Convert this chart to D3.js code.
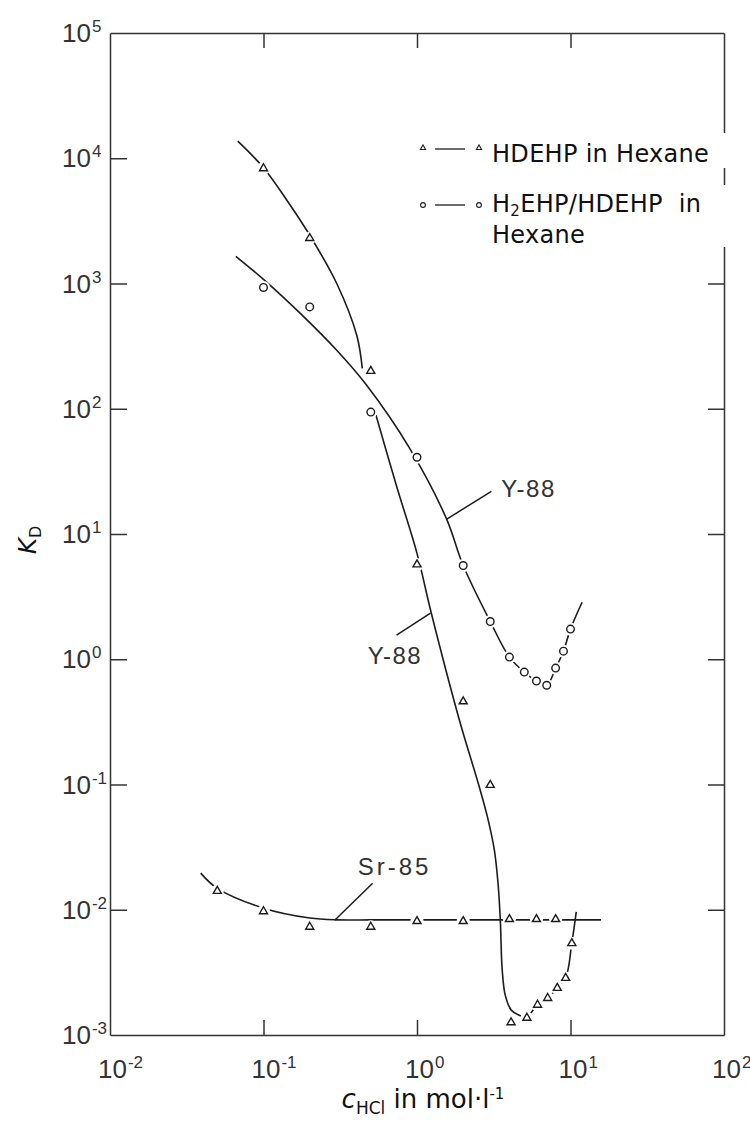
<!DOCTYPE html>
<html>
<head>
<meta charset="utf-8">
<script src="https://cdn.jsdelivr.net/npm/d3@7"></script>
<style>
body { margin: 0; background: #fff; }
</style>
</head>
<body>
<script>
// tick exponents
var xExp = [-2, -1, 0, 1, 2];
var yExp = [5, 4, 3, 2, 1, 0, -1, -2, -3];

// HDEHP in Hexane, Y-88 (triangles)
var hdehpX = [0.1, 0.2, 0.5, 1, 2, 3, 4.1, 5.2, 6.1, 7.1, 8.2, 9.3, 10.2];
var hdehpY = [8300, 2300, 200, 5.7, 0.46, 0.099, 0.00126, 0.00137, 0.00174, 0.00197, 0.00237, 0.00285, 0.0054];
// fitted curves drawn through them
var hdehpUpperX = [0.068, 0.1, 0.142, 0.2, 0.3, 0.405, 0.44];
var hdehpUpperY = [13700, 8400, 4620, 2430, 1000, 386, 210];
var hdehpLowerX = [0.54, 0.74, 1.0, 1.24, 1.89, 2.55, 2.91, 3.19, 3.38, 3.49, 3.59, 3.76, 4.11, 4.63, 5.14, 6.1, 7.1, 8.2, 9.3, 10.2, 10.9];
var hdehpLowerY = [89, 23.6, 7.0, 2.33, 0.326, 0.095, 0.052, 0.030, 0.0157, 0.0082, 0.0033, 0.00207, 0.00158, 0.00144, 0.00139, 0.00174, 0.00197, 0.00237, 0.00285, 0.0054, 0.0096];

// H2EHP/HDEHP in Hexane, Y-88 (circles)
var h2X = [0.1, 0.2, 0.5, 1, 2, 3, 4, 5, 6, 7, 8, 9, 10];
var h2Y = [930, 650, 94, 41, 5.6, 2.0, 1.04, 0.79, 0.67, 0.62, 0.85, 1.16, 1.74];
var h2CurveX = [0.066, 0.1, 0.173, 0.3, 0.47, 0.89, 1.55, 2, 3, 4, 5, 6, 7, 8, 9, 10, 11.9];
var h2CurveY = [1650, 1080, 580, 293, 154, 49, 13.4, 5.6, 2.0, 1.04, 0.79, 0.67, 0.62, 0.85, 1.16, 1.74, 2.85];

// Sr-85 (triangles)
var srX = [0.05, 0.1, 0.2, 0.5, 1, 2, 4, 6, 8];
var srY = [0.0141, 0.0097, 0.0073, 0.0073, 0.0081, 0.0081, 0.0084, 0.0084, 0.0084];
var srCurveX = [0.039, 0.05, 0.1, 0.2, 0.3, 0.5, 1, 2, 4, 8, 15.8];
var srCurveY = [0.0196, 0.0148, 0.0103, 0.0086, 0.0083, 0.0083, 0.0083, 0.0083, 0.0083, 0.0083, 0.0083];

// curve labels and their leader lines (data units)
var labelText = ["Y-88", "Y-88", "Sr-85"];
var labelX = [3.54, 0.477, 0.411];
var labelY = [19.7, 0.912, 0.0188];
var leaderFrom = [[1.555, 13.1], [0.736, 1.556], [0.291, 0.00824]];
var leaderTo = [[3.05, 21.9], [1.224, 2.33], [0.514, 0.0163]];

var legendText = ["HDEHP in Hexane", "H2EHP/HDEHP in Hexane"];

var margin = {left: 110, right: 26, top: 33, bottom: 87};
var width = 750, height = 1122;
var ink = "#1c1c1c";

var svg = d3.select("body").append("svg").attr("width", width).attr("height", height);

var x = d3.scaleLog().domain([1e-2, 1e2]).range([margin.left, width - margin.right]);
var y = d3.scaleLog().domain([1e-3, 1e5]).range([height - margin.bottom, margin.top]);

var yInner = yExp.slice(1, -1).map(function (e) { return Math.pow(10, e); });
var xInner = xExp.slice(1, -1).map(function (e) { return Math.pow(10, e); });

function styleAxis(g) {
    g.selectAll("path, line").attr("stroke", "#333").attr("stroke-width", 1.5);
    g.selectAll("text").remove();
}
// frame with inward ticks
svg.append("g").attr("transform", "translate(" + x.range()[0] + ",0)")
    .call(d3.axisLeft(y).tickValues(yInner).tickSizeInner(-17).tickSizeOuter(0)).call(styleAxis);
svg.append("g").attr("transform", "translate(" + x.range()[1] + ",0)")
    .call(d3.axisRight(y).tickValues(yInner).tickSizeInner(-16).tickSizeOuter(0)).call(styleAxis);
svg.append("g").attr("transform", "translate(0," + y.range()[1] + ")")
    .call(d3.axisTop(x).tickValues(xInner).tickSizeInner(-15).tickSizeOuter(0)).call(styleAxis);
svg.append("g").attr("transform", "translate(0," + y.range()[0] + ")")
    .call(d3.axisBottom(x).tickValues(xInner).tickSizeInner(-15).tickSizeOuter(0)).call(styleAxis);

// tick labels 10^n
var tickFont = "'Liberation Sans Narrow', 'Liberation Sans', sans-serif";
yExp.forEach(function (e) {
    var t = svg.append("text").attr("x", 62).attr("y", y(Math.pow(10, e)) + 9)
        .attr("font-family", tickFont).attr("font-size", 26).attr("fill", "#333");
    t.append("tspan").text("10");
    t.append("tspan").attr("dy", -10).attr("font-size", 17).attr("dx", 1).text(e);
});
xExp.forEach(function (e) {
    var t = svg.append("text").attr("x", x(Math.pow(10, e)) - 12).attr("y", 1078)
        .attr("font-family", tickFont).attr("font-size", 26).attr("fill", "#333");
    t.append("tspan").text("10");
    t.append("tspan").attr("dy", -10).attr("font-size", 17).attr("dx", 1).text(e);
});

// axis titles
var titleFont = "'DejaVu Sans', Verdana, sans-serif";
var xt = svg.append("text").attr("x", 423).attr("y", 1108).attr("text-anchor", "middle")
    .attr("font-family", titleFont).attr("font-size", 26).attr("fill", "#111");
xt.append("tspan").attr("font-style", "italic").text("c");
xt.append("tspan").attr("font-size", 17).attr("dy", 6).text("HCl");
xt.append("tspan").attr("dy", -6).text(" in mol\u00b7l");
xt.append("tspan").attr("font-size", 15).attr("dy", -9).text("-1");

var yt = svg.append("text").attr("transform", "translate(36,540) rotate(-90)").attr("text-anchor", "middle")
    .attr("font-family", titleFont).attr("font-size", 25).attr("fill", "#111");
yt.append("tspan").attr("font-style", "italic").text("K");
yt.append("tspan").attr("font-size", 16).attr("dy", 5).text("D");

// white patch where the legend cuts the right frame
svg.append("rect").attr("x", 486).attr("y", 133).attr("width", 246).attr("height", 35).attr("fill", "#fff");
svg.append("rect").attr("x", 486).attr("y", 185).attr("width", 246).attr("height", 62).attr("fill", "#fff");

// curves
var line = d3.line().x(function (d) { return x(d[0]); }).y(function (d) { return y(d[1]); })
    .curve(d3.curveCatmullRom.alpha(0.5));
function pairs(a, b) { return a.map(function (v, i) { return [v, b[i]]; }); }
[[hdehpUpperX, hdehpUpperY], [hdehpLowerX, hdehpLowerY], [h2CurveX, h2CurveY], [srCurveX, srCurveY]].forEach(function (c) {
    svg.append("path").attr("d", line(pairs(c[0], c[1])))
        .attr("fill", "none").attr("stroke", ink).attr("stroke-width", 1.6);
});

// markers, with a white halo that breaks the line like the original
var tri = d3.symbol().type(d3.symbolTriangle).size(28);
var triPts = pairs(hdehpX, hdehpY).concat(pairs(srX, srY));
var circPts = pairs(h2X, h2Y);
svg.selectAll(".halo").data(triPts.concat(circPts)).enter().append("circle")
    .attr("cx", function (d) { return x(d[0]); }).attr("cy", function (d) { return y(d[1]); })
    .attr("r", 6.5).attr("fill", "#fff");
svg.selectAll(".tri").data(triPts).enter().append("path")
    .attr("d", tri).attr("transform", function (d) { return "translate(" + x(d[0]) + "," + y(d[1]) + ")"; })
    .attr("fill", "#fff").attr("stroke", ink).attr("stroke-width", 1.4);
svg.selectAll(".circ").data(circPts).enter().append("circle")
    .attr("cx", function (d) { return x(d[0]); }).attr("cy", function (d) { return y(d[1]); })
    .attr("r", 3.8).attr("fill", "#fff").attr("stroke", ink).attr("stroke-width", 1.4);

// leaders and labels
leaderFrom.forEach(function (p, i) {
    svg.append("line").attr("x1", x(p[0])).attr("y1", y(p[1]))
        .attr("x2", x(leaderTo[i][0])).attr("y2", y(leaderTo[i][1]))
        .attr("stroke", ink).attr("stroke-width", 1.5);
    svg.append("text").attr("x", x(labelX[i])).attr("y", y(labelY[i]))
        .attr("font-family", tickFont).attr("font-size", 24).attr("letter-spacing", i == 2 ? 3 : 1.5)
        .attr("fill", "#333").text(labelText[i]);
});

// legend
var lg = svg.append("g").attr("font-family", titleFont).attr("font-size", 24).attr("fill", "#111");
var smallTri = d3.symbol().type(d3.symbolTriangle).size(12);
[148, 204].forEach(function (ly, i) {
    lg.append("line").attr("x1", 435).attr("x2", 465).attr("y1", ly + 1).attr("y2", ly + 1)
        .attr("stroke", ink).attr("stroke-width", 1.3);
    [423, 479].forEach(function (lx) {
        if (i == 0) {
            lg.append("path").attr("d", smallTri).attr("transform", "translate(" + lx + "," + ly + ")")
                .attr("fill", "#fff").attr("stroke", ink).attr("stroke-width", 1.1);
        } else {
            lg.append("circle").attr("cx", lx).attr("cy", ly + 1).attr("r", 2.4)
                .attr("fill", "#fff").attr("stroke", ink).attr("stroke-width", 1.1);
        }
    });
});
lg.append("text").attr("x", 492).attr("y", 162).attr("letter-spacing", 0.3).text(legendText[0]);
var l2 = lg.append("text").attr("x", 492).attr("y", 212).attr("letter-spacing", 0.3);
l2.append("tspan").text("H");
l2.append("tspan").attr("font-size", 15).attr("dy", 4).text("2");
l2.append("tspan").attr("dy", -4).text("EHP/HDEHP\u00a0\u00a0in");
lg.append("text").attr("x", 492).attr("y", 243).attr("letter-spacing", 0.3).text("Hexane");
</script>
</body>
</html>
